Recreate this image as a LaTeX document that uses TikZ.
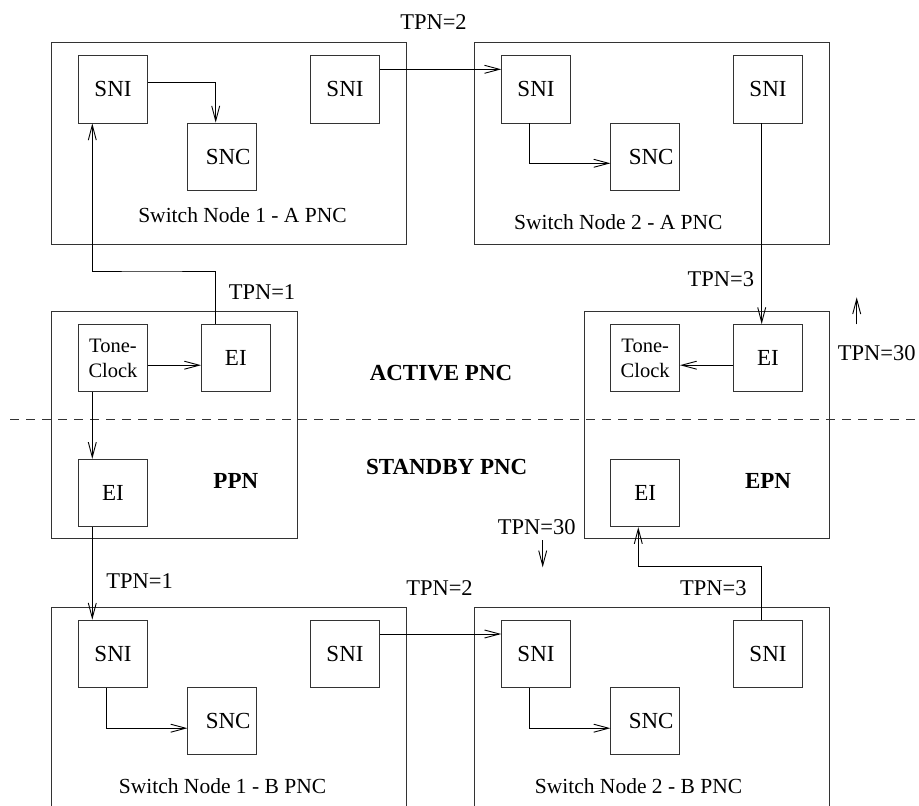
\documentclass[tikz,border=0pt]{standalone}
\usepackage{fontspec}
\setmainfont{Liberation Serif}
\usetikzlibrary{arrows.meta}
\begin{document}
\begin{tikzpicture}[x=1pt,y=-1pt,
  box/.style={draw=black!80,line width=0.9pt,inner sep=0pt,minimum width=68.6pt,minimum height=67.3pt,font=\fontsize{23}{25}\selectfont},
  tcbox/.style={box,align=center,font=\fontsize{20.5}{25}\selectfont},
  frame/.style={draw=black!80,line width=0.9pt},
  lbl/.style={anchor=base,inner sep=0pt,font=\fontsize{22.5}{25}\selectfont},
  swl/.style={anchor=base,inner sep=0pt,font=\fontsize{21.5}{25}\selectfont},
  bld/.style={anchor=base,inner sep=0pt,font=\fontsize{23}{25}\selectfont\bfseries},
  conn/.style={line width=0.9pt,-{Straight Barb[length=15pt,width=8pt]}},
  plain/.style={line width=0.9pt}]
\useasboundingbox (0,0) rectangle (919,806);
% containers
\draw[frame] (51.7,42.3) rectangle (406.7,244);
\draw[frame] (474,42.3) rectangle (829.3,244);
\draw[frame] (51.7,311) rectangle (297.3,538);
\draw[frame] (584,311) rectangle (829.3,538);
\draw[frame] (51.7,806) -- (51.7,607.3) -- (406.7,607.3) -- (406.7,806);
\draw[frame] (474,806) -- (474,607.3) -- (829.3,607.3) -- (829.3,806);
% dashed separator
\draw[black!80,line width=0.9pt,dash pattern=on 9pt off 7pt] (10,419) -- (919,419);
% Switch node 1 - A
\node[box] (a1sniL) at (113,89.3) {SNI};
\node[box] (a1snc) at (222.2,156.7) {\hspace{12pt}SNC};
\node[box] (a1sniR) at (345,89.3) {SNI};
% Switch node 2 - A
\node[box] (a2sniL) at (536,89.3) {SNI};
\node[box] (a2snc) at (645.2,156.7) {\hspace{12pt}SNC};
\node[box] (a2sniR) at (768,89.3) {SNI};
% PPN
\node[tcbox] (pTC) at (113,358.2) {Tone-\\Clock};
\node[box] (pEIt) at (235.8,358.2) {EI};
\node[box] (pEIb) at (113,493) {EI};
% EPN
\node[tcbox] (eTC) at (645.2,358.2) {Tone-\\Clock};
\node[box] (eEIt) at (768,358.2) {EI};
\node[box] (eEIb) at (645.2,493) {EI};
% Switch node 1 - B
\node[box] (b1sniL) at (113,653.8) {SNI};
\node[box] (b1snc) at (222.2,721.2) {\hspace{12pt}SNC};
\node[box] (b1sniR) at (345,653.8) {SNI};
% Switch node 2 - B
\node[box] (b2sniL) at (536,653.8) {SNI};
\node[box] (b2snc) at (645.2,721.2) {\hspace{12pt}SNC};
\node[box] (b2sniR) at (768,653.8) {SNI};
% labels
\node[swl] (la1) at (242.5,222.7) {Switch Node 1 - A PNC};
\node[swl] (la2) at (618.3,229.3) {Switch Node 2 - A PNC};
\node[swl] (lb1) at (222.5,793.3) {Switch Node 1 - B PNC};
\node[swl] (lb2) at (638.5,793.3) {Switch Node 2 - B PNC};
\node[lbl] (t2a) at (433.5,29.3) {TPN=2};
\node[lbl] (t1a) at (262,299.3) {TPN=1};
\node[lbl] (t3a) at (720.8,286) {TPN=3};
\node[lbl] (t30a) at (876.7,360) {TPN=30};
\node[lbl] (t30b) at (536.7,534) {TPN=30};
\node[lbl] (t1b) at (139.7,588.3) {TPN=1};
\node[lbl] (t2b) at (439.5,595) {TPN=2};
\node[lbl] (t3b) at (713.3,595) {TPN=3};
\node[bld] (act) at (441,380) {ACTIVE PNC};
\node[bld] (stb) at (446.7,474) {STANDBY PNC};
\node[bld] (ppn) at (235.8,488.3) {PPN};
\node[bld] (epn) at (768,488.3) {EPN};
% connectors
\coordinate (k1) at (150,271);
\coordinate (k2) at (700,566.7);
\draw[conn] ([yshift=6.6pt]a1sniL.east) -| ([xshift=-6.5pt]a1snc.north);
\draw[conn] ([yshift=20pt]a1sniR.east) -- ([yshift=20pt]a2sniL.west);
\draw[conn] ([xshift=-7pt]a2sniL.south) |- ([yshift=-6.6pt]a2snc.west);
\draw[conn] ([xshift=-6.3pt]a2sniR.south) -- ([xshift=-6.3pt]eEIt.north);
\draw[conn] ([xshift=-20.5pt]pEIt.north) |- (k1) -| ([xshift=-20.7pt]a1sniL.south);
\draw[conn] ([yshift=-7pt]pTC.east) -- ([yshift=-7pt]pEIt.west);
\draw[conn] ([xshift=-20.7pt]pTC.south) -- ([xshift=-20.7pt]pEIb.north);
\draw[conn] ([xshift=-20.7pt]pEIb.south) -- ([xshift=-20.7pt]b1sniL.north);
\draw[conn] ([yshift=-7pt]eEIt.west) -- ([yshift=-7pt]eTC.east);
\draw[conn] ([xshift=-6.3pt]b2sniR.north) |- (k2) -| ([xshift=-6.9pt]eEIb.south);
\draw[conn] ([yshift=19.8pt]b1sniR.east) -- ([yshift=19.8pt]b2sniL.west);
\draw[conn] ([xshift=-6.7pt]b1sniL.south) |- ([yshift=-7pt]b1snc.west);
\draw[conn] ([xshift=-7pt]b2sniL.south) |- ([yshift=-7pt]b2snc.west);
% free arrows
\coordinate (u1) at (856.7,324.3);
\coordinate (u2) at (856.7,297.3);
\coordinate (d1) at (542.7,540);
\coordinate (d2) at (542.7,567.3);
\draw[conn] (u1) -- (u2);
\draw[conn] (d1) -- (d2);
\end{tikzpicture}
\end{document}
